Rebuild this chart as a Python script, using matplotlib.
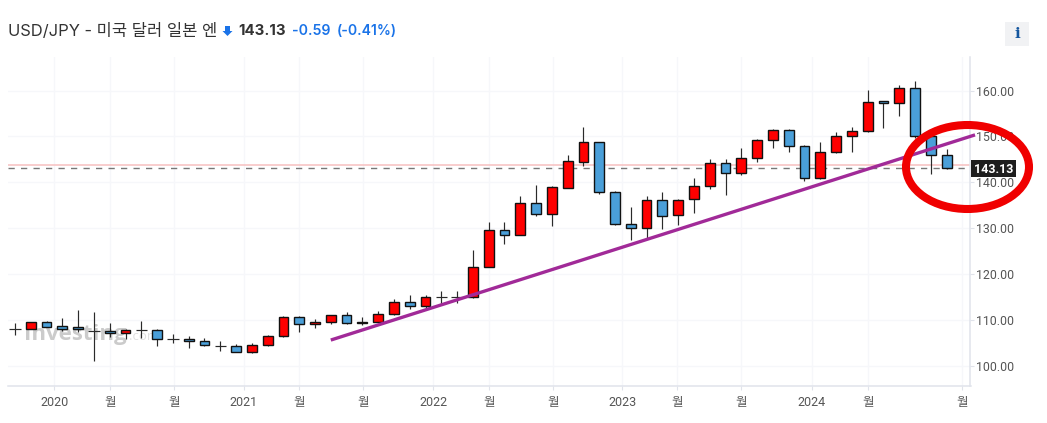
import matplotlib
matplotlib.use("Agg")
import matplotlib.pyplot as plt
from matplotlib.patches import Ellipse, Rectangle, Polygon
from matplotlib.transforms import IdentityTransform

W, H = 1047, 423
FONT = ['Inter', 'Noto Sans CJK KR', 'DejaVu Sans']
TICK_FONT = ['Roboto', 'Noto Sans CJK KR', 'DejaVu Sans']
plt.rcParams['font.family'] = FONT

opens = [108.0,108.0,109.6,108.8,108.55,107.7,107.7,107.2,107.9,107.8,
         105.95,105.85,105.4,104.5,104.35,103.2,104.55,106.5,110.7,109.1,
         109.6,111.1,109.5,109.7,111.3,114.0,113.05,115.05,115.1,115.1,
         121.6,129.7,128.6,135.55,133.15,138.8,144.55,148.7,138.0,131.0,
         130.1,136.2,132.9,136.35,139.3,144.25,142.15,145.35,149.3,151.5,
         148.0,141.0,146.7,150.0,151.3,157.7,157.25,160.65,150.0,146.05]
closes = [108.05,109.6,108.5,108.2,108.0,107.6,107.2,107.8,107.8,105.85,
          105.85,105.4,104.55,104.4,103.2,104.55,106.6,110.7,109.1,109.6,
          111.1,109.5,109.7,111.4,114.0,113.05,115.05,115.1,115.1,121.6,
          129.7,128.6,135.55,133.15,138.9,144.75,148.7,137.95,131.0,130.1,
          136.2,132.8,136.2,139.25,144.25,142.15,145.35,149.3,151.5,148.0,
          141.05,146.7,150.0,151.3,157.6,157.25,160.65,150.0,146.05,143.13]
highs = [109.5,109.6,109.9,110.4,112.25,111.8,109.4,108.05,109.85,108.0,
         107.1,106.6,106.15,105.6,104.85,105.0,106.8,110.95,110.95,110.2,
         111.15,111.7,110.8,112.0,114.7,115.6,115.4,116.3,116.3,125.2,
         131.3,131.3,137.0,139.4,139.2,145.9,152.0,148.8,138.15,134.75,
         137.0,137.85,136.4,140.9,145.05,145.05,147.45,149.55,151.7,151.7,
         148.25,148.75,150.9,152.0,160.05,157.8,161.1,162.0,150.0,147.2]
lows = [106.7,108.0,108.5,107.75,107.5,101.2,106.4,106.0,106.15,104.3,
        105.1,104.05,104.3,103.4,103.05,102.8,104.5,106.4,107.55,108.4,
        109.3,109.3,109.0,109.6,111.1,112.55,112.6,113.55,113.85,114.8,
        121.5,126.55,128.5,132.7,130.45,138.7,143.6,137.5,130.7,127.4,
        128.0,129.8,130.7,133.45,138.5,137.3,141.65,144.45,147.6,146.7,
        140.3,140.85,146.35,146.65,150.9,151.95,154.55,149.75,141.85,143.0]

y_ticks = [100, 110, 120, 130, 140, 150, 160]
x_tick_pos = [2.5, 6.0, 10.05, 14.5, 18.0, 22.05, 26.5, 30.0, 34.05, 38.45, 41.95, 46.0, 50.45, 54.0, 60.0]
x_tick_labels = ['2020', '월', '월', '2021', '월', '월', '2022', '월', '월', '2023', '월', '월', '2024', '월', '월']

last_price = 143.13
prev_close = 143.72
trend_x = [20.0, 60.8]
trend_y = [105.7, 150.35]

UP, DOWN = '#ff0000', '#4a9fd9'
GRID, AXIS, TXT = '#f6f7fa', '#e0e3eb', '#555555'

fig = plt.figure(figsize=(W / 100, H / 100), dpi=100, facecolor='white')
L, R, T, B = 8, 970.5, 57, 386
ax = fig.add_axes([L / W, 1 - B / H, (R - L) / W, (B - T) / H])
ax.set_xlim((L - 15) / 15.79, (R - 15) / 15.79)
ax.set_ylim(95.7, 167.3)

for s in ('top', 'left'):
    ax.spines[s].set_visible(False)
for s in ('right', 'bottom'):
    ax.spines[s].set_color(AXIS)
    ax.spines[s].set_linewidth(1.1)
ax.yaxis.tick_right()
ax.set_yticks(y_ticks, [f'{v:.2f}' for v in y_ticks], family=TICK_FONT)
ax.set_xticks(x_tick_pos, x_tick_labels, family=TICK_FONT)
ax.tick_params(axis='y', length=3, width=0.8, color=AXIS, labelcolor=TXT, labelsize=8.9, pad=0.8)
ax.tick_params(axis='x', length=3, width=0.8, color=AXIS, labelcolor=TXT, labelsize=9, pad=4)
ax.grid(True, color=GRID, linewidth=1)
ax.set_axisbelow(True)

# watermark
ax.text(24, H - 340, 'Investing', transform=IdentityTransform(), color='#cbcbcb',
        fontsize=16, fontweight='bold', family=['Open Sans', 'DejaVu Sans'], zorder=1.5, va='baseline')
ax.text(129, H - 340, '.com', transform=IdentityTransform(), color='#e0e0e0',
        fontsize=9.5, family=['Open Sans', 'DejaVu Sans'], zorder=1.5, va='baseline')

# reference lines
ax.axhline(prev_close, color='#f7c0c0', lw=1.1, zorder=2)
ax.axhline(last_price, color='#777777', lw=1.0, dashes=(4.5, 4.5), zorder=2)

# candles
for i, (o, c, h, l) in enumerate(zip(opens, closes, highs, lows)):
    ax.vlines(i, l, h, color='#2a2a2a', lw=0.85, zorder=3)
    if abs(o - c) < 0.16:
        ax.hlines((o + c) / 2, i - 0.36, i + 0.36, color='#2a2a2a', lw=0.85, zorder=3)
    else:
        ax.bar(i, abs(c - o), bottom=min(o, c), width=0.62, color=UP if c >= o else DOWN,
               edgecolor='#111111', linewidth=1.0, zorder=4)

# hand-drawn annotations
ax.plot(trend_x, trend_y, color='#a12a98', lw=2.4, solid_capstyle='butt', zorder=6, clip_on=False)
ring = Ellipse((967.5, H - 167), 123, 84, fill=False, edgecolor='#f00000', linewidth=5.8,
               transform=IdentityTransform(), clip_on=False, zorder=7)
ax.add_patch(ring)

# last price tag
fig.add_artist(Rectangle((971 / W, 1 - 177.5 / H), 45 / W, 17 / H, transform=fig.transFigure,
                         fc='#1e1e1e', ec='none', zorder=8))
fig.text(993.5 / W, 1 - 169 / H, f'{last_price:.2f}', color='white', family=TICK_FONT,
         fontsize=9, fontweight='bold', ha='center', va='center', zorder=9)

# header
fig.text(8 / W, 1 - 31 / H, 'USD/JPY - 미국 달러 일본 엔', fontsize=11.9, color='#333333', va='center')
fig.add_artist(Polygon([(225 / W, 1 - 26 / H), (230 / W, 1 - 26 / H), (230 / W, 1 - 31 / H),
                        (232.5 / W, 1 - 31 / H), (227.5 / W, 1 - 36 / H), (222.5 / W, 1 - 31 / H),
                        (225 / W, 1 - 31 / H)], closed=True, transform=fig.transFigure,
                       fc='#1a73e8', ec='none'))
fig.text(238 / W, 1 - 31 / H, '143.13', fontsize=10.8, fontweight='bold', color='#333333', va='center')
fig.text(292 / W, 1 - 31 / H, '-0.59', fontsize=10.2, fontweight='semibold', color='#1a73e8', va='center')
fig.text(337 / W, 1 - 31 / H, '(-0.41%)', fontsize=10.1, fontweight='semibold', color='#1a73e8', va='center')

# info button
fig.add_artist(Rectangle((1005 / W, 1 - 46 / H), 24 / W, 24 / H, transform=fig.transFigure,
                         fc='#f1f2f4', ec='none'))
fig.text(1017 / W, 1 - 34 / H, 'i', family='DejaVu Serif', fontweight='bold', fontsize=11,
         color='#14569e', ha='center', va='center')

fig.savefig('out.png', dpi=100)
